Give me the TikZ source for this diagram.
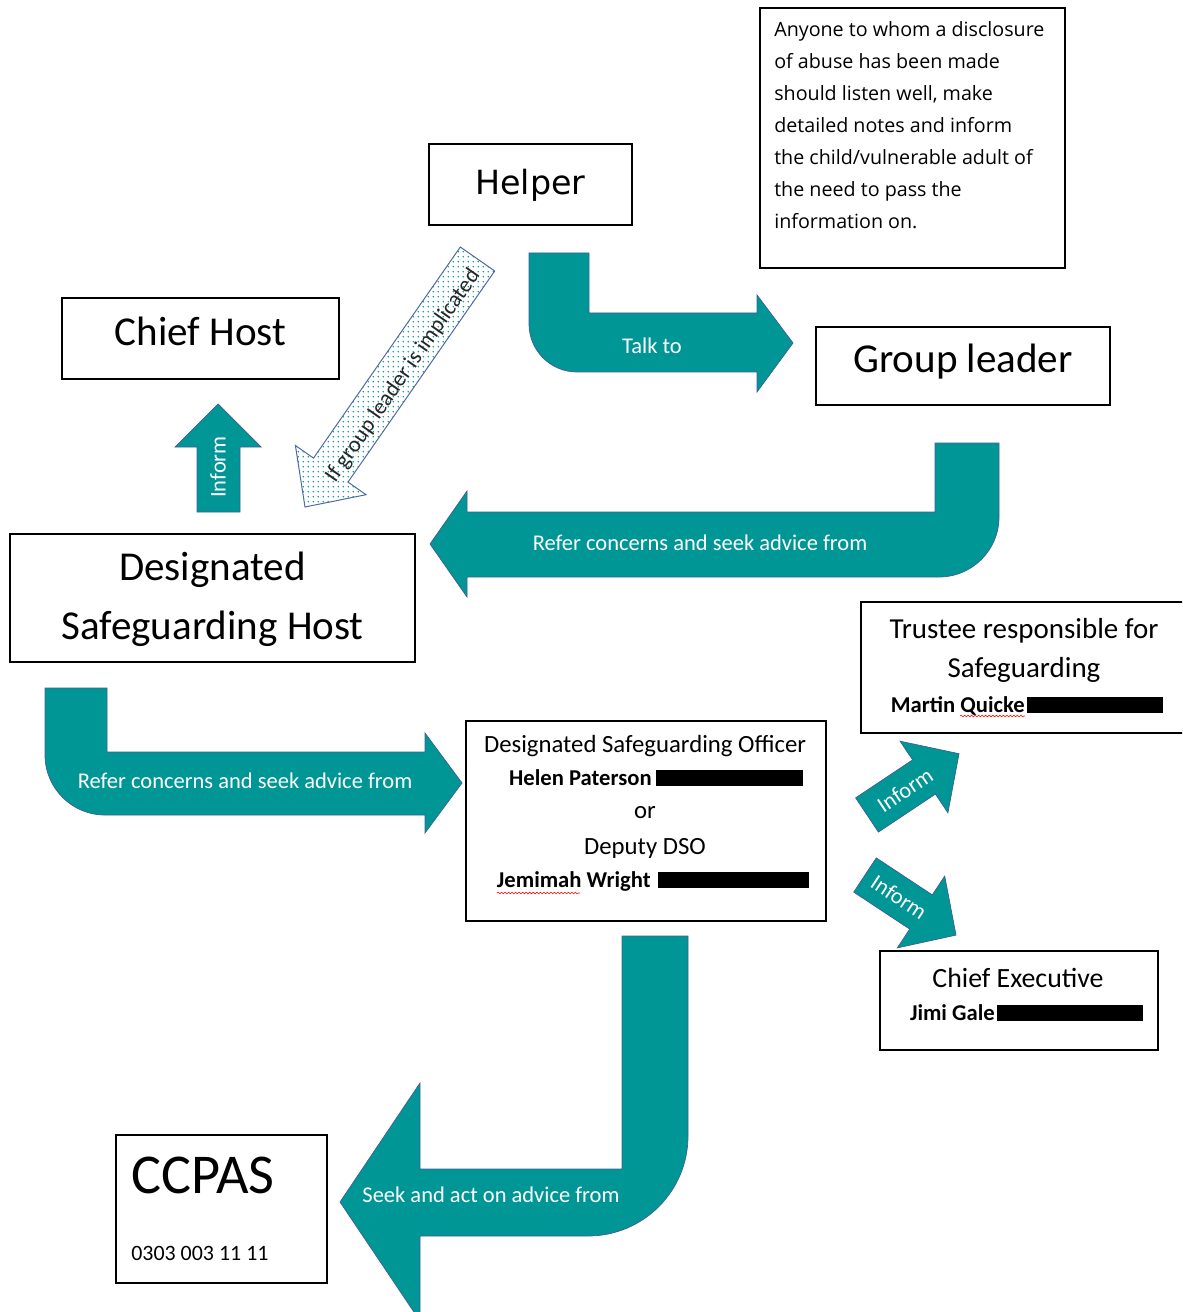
\documentclass[tikz,border=0pt]{standalone}
\usepackage{fontspec}
\setmainfont{Carlito}
\newfontfamily\helperfont{DejaVu Sans}
\newfontfamily\notefont{Open Sans}
\usetikzlibrary{patterns,decorations.pathmorphing}
\definecolor{arrowteal}{RGB}{0,150,150}
\definecolor{arrowline}{RGB}{60,95,150}
\definecolor{dotline}{RGB}{75,105,165}
\newcommand{\fs}[2]{\fontsize{#1}{#2}\selectfont}
% teal dots for the dashed-in arrow
\pgfdeclarepatternformonly{sparsedots}{\pgfpointorigin}{\pgfqpoint{3.4pt}{3.4pt}}{\pgfqpoint{3.4pt}{3.4pt}}{%
  \pgfpathcircle{\pgfqpoint{1.7pt}{1.7pt}}{0.6pt}\pgfusepath{fill}}

\tikzset{
  box/.style={rectangle,draw,line width=0.9pt,inner sep=0},
  blockarrow/.style={fill=arrowteal,draw=arrowline,line width=0.5pt},
  dotarrow/.style={draw=dotline,line width=0.7pt,preaction={fill=white},pattern=sparsedots,pattern color=arrowteal},
  arrowlabel/.style={text=white,font=\fs{16}{19}},
  redact/.style={fill=black},
  squiggle/.style={red,line width=0.4pt,decorate,decoration={snake,amplitude=0.6pt,segment length=2.5pt}}
}

\begin{document}
\begin{tikzpicture}[x=0.025cm,y=-0.025cm]
\clip (0,0) rectangle (1182,1312);

% boxes
\draw (530.5,184.5) node[box,minimum width=5.075cm,minimum height=2.025cm] (helper) {};
\draw (912.5,138) node[box,minimum width=7.625cm,minimum height=6.5cm] (note) {};
\draw (200.5,338.5) node[box,minimum width=6.925cm,minimum height=2.025cm] (chiefhost) {};
\draw (963,366) node[box,minimum width=7.35cm,minimum height=1.95cm] (groupleader) {};
\draw (212.5,598) node[box,minimum width=10.125cm,minimum height=3.2cm] (dsh) {};
\draw (1025.5,667.5) node[box,minimum width=8.225cm,minimum height=3.275cm] (trustee) {};
\draw (646,821) node[box,minimum width=9cm,minimum height=5cm] (dso) {};
\draw (1019,1000.5) node[box,minimum width=6.95cm,minimum height=2.475cm] (chiefexec) {};
\draw (221.5,1209) node[box,minimum width=5.275cm,minimum height=3.7cm] (ccpas) {};

% box texts
\draw (530.5,195) node[anchor=base,font=\helperfont\fs{23.7}{28}] {Helper};
\draw (200.5,346) node[anchor=base,font=\fs{29.2}{35}] {Chief Host};
\draw (963,373) node[anchor=base,font=\fs{29.2}{35}] {Group leader};
\draw (212.5,580) node[anchor=base,font=\fs{29.2}{35}] {Designated};
\draw (212.5,639) node[anchor=base,font=\fs{29.2}{35}] {Safeguarding Host};
\foreach \txt [count=\i from 0] in {Anyone to whom a disclosure,of abuse has been made,{should listen well, make},detailed notes and inform,the child/vulnerable adult of,the need to pass the,information on.}
  \draw (774,{37+32*\i}) node[anchor=base west,inner sep=0,font=\notefont\fs{14}{17}] {\txt};

\draw (1024,638) node[anchor=base,font=\fs{20.6}{24}] {Trustee responsible for};
\draw (1024,677) node[anchor=base,font=\fs{20.6}{24}] {Safeguarding};
\draw (1025,712) node[anchor=base east,inner sep=0,font=\bfseries\fs{16.1}{19}] {Martin Quicke};
\fill[redact] (1027,697) rectangle (1163,713);
\draw[squiggle] (960,716) -- (1025,716);

\draw (645,752) node[anchor=base,font=\fs{17.6}{21}] {Designated Safeguarding Officer};
\draw (652,785) node[anchor=base east,inner sep=0,font=\bfseries\fs{16.1}{19}] {Helen Paterson};
\fill[redact] (656,770) rectangle (803,786);
\draw (645,818) node[anchor=base,font=\fs{17.6}{21}] {or};
\draw (645,854) node[anchor=base,font=\fs{17.6}{21}] {Deputy DSO};
\draw (651,887) node[anchor=base east,inner sep=0,font=\bfseries\fs{16.1}{19}] {Jemimah Wright};
\fill[redact] (658,872) rectangle (809,888);
\draw[squiggle] (497,893) -- (580,893);

\draw (1018,987) node[anchor=base,font=\fs{19.8}{23}] {Chief Executive};
\draw (995,1020) node[anchor=base east,inner sep=0,font=\bfseries\fs{16.1}{19}] {Jimi Gale};
\fill[redact] (997,1005) rectangle (1143,1021);

\draw (131,1193) node[anchor=base west,inner sep=0,font=\fs{40}{46}] {CCPAS};
\draw (131,1260) node[anchor=base west,inner sep=0,font=\fs{15.6}{18}] {0303 003 11 11};

% talk to
\filldraw[blockarrow] (529,253) -- (589,253) -- (589,313) -- (757,313) -- (757,295) -- (793,343) -- (757,392) -- (757,372) -- (577,372) arc[start angle=90,end angle=180,radius=48] -- cycle;
\draw (652,346) node[arrowlabel] {Talk to};

% refer (group leader to host)
\filldraw[blockarrow] (935,443) -- (999,443) -- (999,517) arc[start angle=0,end angle=90,radius=60] -- (467,577) -- (467,597) -- (430,544) -- (467,491) -- (467,512) -- (935,512) -- cycle;
\draw (700,543) node[arrowlabel] {Refer concerns and seek advice from};

% refer (host to officer)
\filldraw[blockarrow] (45,688) -- (107,688) -- (107,752) -- (425,752) -- (425,733) -- (462,783) -- (425,833) -- (425,815) -- (105,815) arc[start angle=90,end angle=180,radius=60] -- cycle;
\draw (245,781) node[arrowlabel] {Refer concerns and seek advice from};

% seek advice
\filldraw[blockarrow] (622,936) -- (688,936) -- (688,1136) arc[start angle=0,end angle=90,radius=100] -- (420,1236) -- (420,1321) -- (340,1202) -- (420,1083) -- (420,1169) -- (622,1169) -- cycle;
\draw (491,1195) node[arrowlabel] {Seek and act on advice from};

% inform chief host
\filldraw[blockarrow] (197,512) -- (240,512) -- (240,447) -- (261,447) -- (218,404) -- (175,447) -- (197,447) -- cycle;
\draw (218,467) node[arrowlabel,rotate=90] {Inform};

% inform trustee / chief executive
\filldraw[blockarrow] (855.6,797.9) -- (912.6,759.9) -- (900.1,741.2) -- (959,753.7) -- (947.9,812.8) -- (935.4,794.1) -- (878.4,832.1) -- cycle;
\draw (905,790) node[arrowlabel,rotate=33.7] {Inform};
\filldraw[blockarrow] (876.3,857.9) -- (932.3,894.9) -- (944.7,876.1) -- (956,935.1) -- (897.3,947.9) -- (909.7,929.1) -- (853.7,892.1) -- cycle;
\draw (899,897) node[arrowlabel,rotate=-33.5] {Inform};

% group leader implicated
\draw[dotarrow] (460.3,247) -- (494.7,271) -- (348,482.1) -- (366,494.7) -- (305,507) -- (295.4,445.5) -- (313.5,458.1) -- cycle;
\draw (403,376) node[rotate=55.2,text=black!85,font=\fs{16}{19}] {If group leader is implicated};

\end{tikzpicture}
\end{document}
